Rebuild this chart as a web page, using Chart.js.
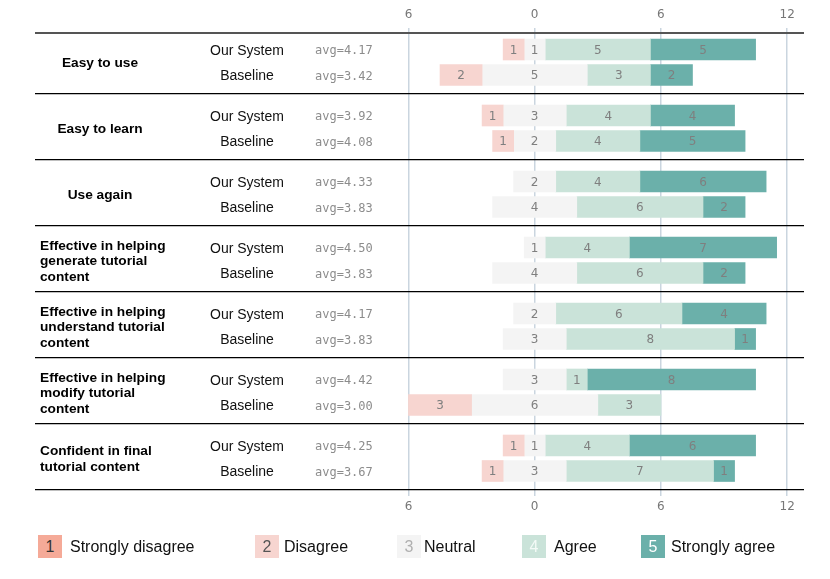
<!DOCTYPE html>
<html lang="en">
<head>
    <meta charset="UTF-8">
    <title>Questionnaire results</title>
    <script src="https://cdn.jsdelivr.net/npm/chart.js"></script>
    <style>
        body { margin: 0; background: #fff; font-family: "Liberation Sans", Arial, sans-serif; }
        #wrap { position: relative; width: 830px; height: 579px; }
        .sw { position: absolute; top: 535px; width: 24px; height: 23px; line-height: 23px; text-align: center; font-size: 16px; }
        .key { position: absolute; top: 535px; height: 23px; line-height: 23px; font-size: 16px; color: #111; white-space: nowrap; }
    </style>
</head>
<body>
<div id="wrap">
    <canvas id="likert" width="830" height="579"></canvas>
    <div id="legend"></div>
</div>

<script>
    // questions (one entry per line of the label)
    const questions = [
        ['Easy to use'],
        ['Easy to learn'],
        ['Use again'],
        ['Effective in helping', 'generate tutorial', 'content'],
        ['Effective in helping', 'understand tutorial', 'content'],
        ['Effective in helping', 'modify tutorial', 'content'],
        ['Confident in final', 'tutorial content']
    ];
    const systems = ['Our System', 'Baseline'];
    const levels = ['Strongly disagree', 'Disagree', 'Neutral', 'Agree', 'Strongly agree'];

    // answer counts per question: [1, 2, 3, 4, 5]
    const ourSystem = [
        [0, 1, 1, 5, 5],
        [0, 1, 3, 4, 4],
        [0, 0, 2, 4, 6],
        [0, 0, 1, 4, 7],
        [0, 0, 2, 6, 4],
        [0, 0, 3, 1, 8],
        [0, 1, 1, 4, 6]
    ];
    const baseline = [
        [0, 2, 5, 3, 2],
        [0, 1, 2, 4, 5],
        [0, 0, 4, 6, 2],
        [0, 0, 4, 6, 2],
        [0, 0, 3, 8, 1],
        [0, 3, 6, 3, 0],
        [0, 1, 3, 7, 1]
    ];
    const xTicks = [-6, 0, 6, 12];

    const levelColors = ['#f5aa98', '#f7d5d0', '#f4f4f4', '#cae3d9', '#6bb0aa'];
    const legendText = ['#333', '#555', '#b0b0b0', '#f4faf7', '#ffffff'];

    // layout of the rows on the (pixel-like) y scale
    const groupStep = 66;
    const rowOffset = [21.5, 47];
    const separators = [4.5, 66, 132, 198, 264, 330, 396, 462];

    const rows = [];
    questions.forEach((q, i) => {
        [ourSystem[i], baseline[i]].forEach((counts, s) => {
            const total = counts.reduce((a, b) => a + b, 0);
            const avg = counts.reduce((a, c, k) => a + c * (k + 1), 0) / total;
            rows.push({ y: groupStep * i + rowOffset[s], name: systems[s], counts: counts, avg: avg });
        });
    });

    // neutral is split around zero, disagree goes left, agree goes right
    function segment(counts, k) {
        const h = counts[2] / 2;
        if (k === 0) return [-h - counts[1] - counts[0], -h - counts[1]];
        if (k === 1) return [-h - counts[1], -h];
        if (k === 2) return [-h, h];
        if (k === 3) return [h, h + counts[3]];
        return [h + counts[3], h + counts[3] + counts[4]];
    }

    const datasets = levels.map((lv, k) => ({
        label: lv,
        data: rows.filter(r => r.counts[k] > 0)
                  .map(r => ({ x: segment(r.counts, k), y: r.y, n: r.counts[k] })),
        backgroundColor: levelColors[k],
        borderWidth: 0,
        borderSkipped: false,
        barThickness: 21,
        grouped: false
    }));

    const barNumbers = {
        id: 'barNumbers',
        afterDatasetsDraw(chart) {
            const ctx = chart.ctx;
            ctx.save();
            ctx.font = '12px "DejaVu Sans"';
            ctx.fillStyle = '#7f7f7f';
            ctx.textAlign = 'center';
            ctx.textBaseline = 'middle';
            chart.data.datasets.forEach((ds, k) => {
                chart.getDatasetMeta(k).data.forEach((bar, i) => {
                    const p = bar.getCenterPoint();
                    ctx.fillText(ds.data[i].n, p.x, p.y + 1);
                });
            });
            ctx.restore();
        }
    };

    const sideLabels = {
        id: 'sideLabels',
        afterDraw(chart) {
            const ctx = chart.ctx;
            const y = chart.scales.y;
            ctx.save();
            ctx.textBaseline = 'middle';
            rows.forEach(r => {
                const py = y.getPixelForValue(r.y) + 1.5;
                ctx.font = '14px "Liberation Sans", Arial';
                ctx.fillStyle = '#111';
                ctx.textAlign = 'center';
                ctx.fillText(r.name, 247, py);
                ctx.font = '12px "DejaVu Sans Mono"';
                ctx.fillStyle = '#8c8c8c';
                ctx.textAlign = 'left';
                ctx.fillText('avg=' + r.avg.toFixed(2), 315, py);
            });
            ctx.font = 'bold 13.7px "Liberation Sans", Arial';
            ctx.fillStyle = '#000';
            questions.forEach((q, i) => {
                const mid = (y.getPixelForValue(groupStep * i + rowOffset[0]) +
                             y.getPixelForValue(groupStep * i + rowOffset[1])) / 2 + 1;
                if (q.length === 1) {
                    ctx.textAlign = 'center';
                    ctx.fillText(q[0], 100, mid);
                } else {
                    ctx.textAlign = 'left';
                    const lh = 15.5;
                    q.forEach((line, j) => {
                        ctx.fillText(line, 40, mid + (j - (q.length - 1) / 2) * lh);
                    });
                }
            });
            ctx.restore();
        }
    };

    const tickFont = { family: '"DejaVu Sans"', size: 12 };
    const gridColor = '#cad5df';

    new Chart(document.getElementById('likert'), {
        type: 'bar',
        data: { datasets: datasets },
        options: {
            indexAxis: 'y',
            responsive: false,
            animation: false,
            layout: { padding: { left: 35, right: 26, top: 0, bottom: 59 } },
            plugins: { legend: { display: false }, tooltip: { enabled: false } },
            scales: {
                x: {
                    type: 'linear',
                    position: 'top',
                    min: -23.75,
                    max: 12.8,
                    afterBuildTicks: s => { s.ticks = xTicks.map(v => ({ value: v })); },
                    afterFit: s => { s.height = 28; },
                    ticks: { callback: v => Math.abs(v), color: '#777', font: tickFont, padding: 6 },
                    grid: { color: gridColor, lineWidth: 1.5, drawTicks: false },
                    border: { display: false }
                },
                x2: {
                    type: 'linear',
                    position: 'bottom',
                    min: -23.75,
                    max: 12.8,
                    afterBuildTicks: s => { s.ticks = xTicks.map(v => ({ value: v })); },
                    afterFit: s => { s.height = 30; },
                    ticks: { callback: v => Math.abs(v), color: '#777', font: tickFont, padding: 4 },
                    grid: { drawOnChartArea: false, color: gridColor, lineWidth: 1.5, tickLength: 6 },
                    border: { display: false }
                },
                y: {
                    type: 'linear',
                    reverse: true,
                    offset: false,
                    min: 0,
                    max: 462,
                    afterBuildTicks: s => { s.ticks = separators.map(v => ({ value: v })); },
                    afterFit: s => { s.width = 0; },
                    ticks: { display: false },
                    grid: {
                        offset: false,
                        drawTicks: false,
                        color: c => c.index === 0 ? '#555' : '#000',
                        lineWidth: c => c.index === 0 ? 2 : 1.2
                    },
                    border: { display: false }
                }
            }
        },
        plugins: [barNumbers, sideLabels]
    });

    // legend row under the chart
    const swatchX = [38, 255, 397, 522, 641];
    const textX = [70, 284, 424, 554, 671];
    const legend = document.getElementById('legend');
    levels.forEach((lv, k) => {
        const sw = document.createElement('div');
        sw.className = 'sw';
        sw.style.left = swatchX[k] + 'px';
        sw.style.background = levelColors[k];
        sw.style.color = legendText[k];
        sw.textContent = k + 1;
        legend.appendChild(sw);
        const t = document.createElement('div');
        t.className = 'key';
        t.style.left = textX[k] + 'px';
        t.textContent = lv;
        legend.appendChild(t);
    });
</script>
</body>
</html>
